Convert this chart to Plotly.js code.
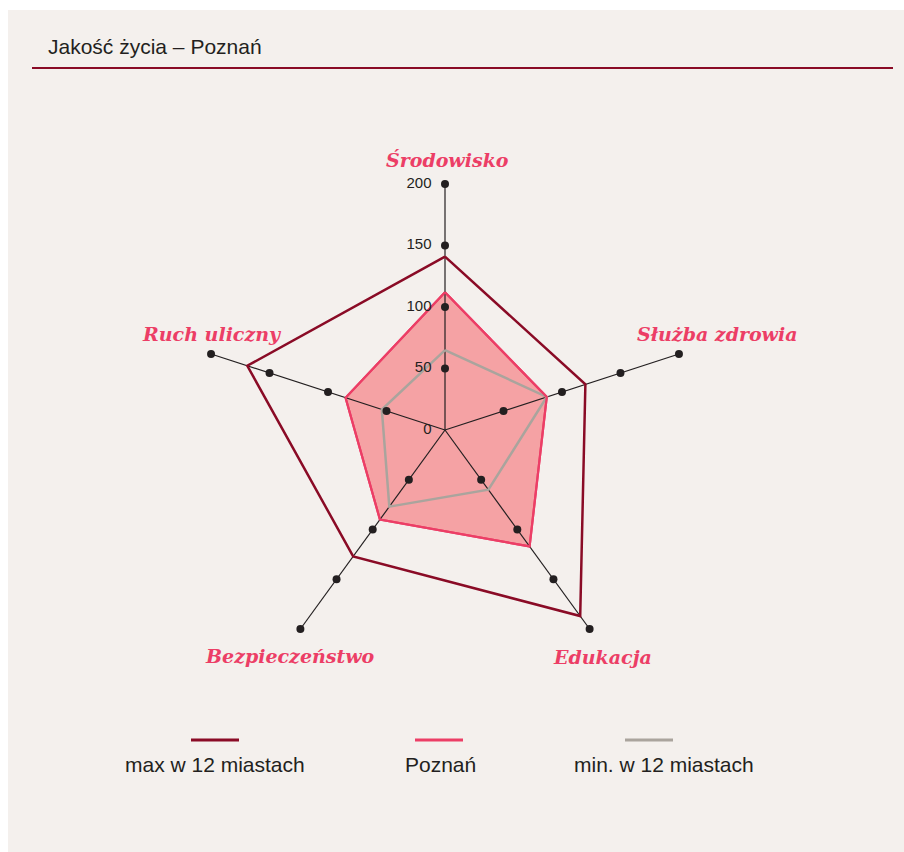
<!DOCTYPE html>
<html>
<head>
<meta charset="utf-8">
<script src="https://cdn.plot.ly/plotly-3.0.1.min.js"></script>
<style>html,body{margin:0;padding:0;background:#fff;}#chart{width:904px;height:852px;}</style>
</head>
<body>
<div id="chart"></div>
<script>
const categories = ["Środowisko", "Służba zdrowia", "Edukacja", "Bezpieczeństwo", "Ruch uliczny"];
const maxValues = [141, 120, 187, 127, 169];
const poznanValues = [112, 87, 117, 90, 85];
const minValues = [65, 87, 60, 77, 54];
const radialTicks = [0, 50, 100, 150, 200];
const seriesNames = ["max w 12 miastach", "Poznań", "min. w 12 miastach"];
const titleText = "Jakość życia – Poznań";

const C_MAX = "#8a0b26", C_POZ = "#ec3e66", C_MIN = "#aaa49d", C_AX = "#231f20";
const close = a => a.concat([a[0]]);
const thetaClosed = close(categories);
const rMax = radialTicks[radialTicks.length - 1];

// spokes
const spokeR = [], spokeT = [];
categories.forEach(c => { spokeR.push(0, rMax, null); spokeT.push(c, c, null); });
// tick dots
const dotR = [], dotT = [];
categories.forEach(c => radialTicks.slice(1).forEach(t => { dotR.push(t); dotT.push(c); }));

const traces = [
  {type: "scatterpolar", r: close(poznanValues), theta: thetaClosed, mode: "lines", fill: "toself",
   fillcolor: "#f5a2a4", line: {color: C_POZ, width: 2.2}, name: seriesNames[1], showlegend: false, hoverinfo: "skip"},
  {type: "scatterpolar", r: spokeR, theta: spokeT, mode: "lines", connectgaps: false,
   line: {color: C_AX, width: 1.2}, showlegend: false, hoverinfo: "skip"},
  {type: "scatterpolar", r: close(minValues), theta: thetaClosed, mode: "lines",
   line: {color: C_MIN, width: 2.5}, name: seriesNames[2], showlegend: false, hoverinfo: "skip"},
  {type: "scatterpolar", r: close(poznanValues), theta: thetaClosed, mode: "lines",
   line: {color: C_POZ, width: 2.2}, name: seriesNames[1], showlegend: false, hoverinfo: "skip"},
  {type: "scatterpolar", r: close(maxValues), theta: thetaClosed, mode: "lines",
   line: {color: C_MAX, width: 2.5}, name: seriesNames[0], showlegend: false, hoverinfo: "skip"},
  {type: "scatterpolar", r: dotR, theta: dotT, mode: "markers",
   marker: {color: C_AX, size: 8}, showlegend: false, hoverinfo: "skip"},
  {type: "scatterpolar", r: radialTicks, theta: radialTicks.map(() => categories[0]), mode: "markers+text",
   text: radialTicks.map(String), textposition: "middle left",
   marker: {size: 20, opacity: 0}, textfont: {family: "Liberation Sans, Arial", size: 15, color: C_AX},
   showlegend: false, hoverinfo: "skip"}
];

const W = 904, H = 852;
const px = x => x / W, py = y => 1 - y / H;
const cx = 445, cy = 430, R = 246;

const labelFont = {family: "DejaVu Serif", size: 19, color: C_POZ, weight: "bold", style: "italic"};
const labelPos = [[447, 160], [717, 334], [602, 657], [290, 656], [212, 334]];
const annotations = categories.map((c, i) => ({
  text: "<b><i>" + c + "</i></b>", xref: "paper", yref: "paper", x: px(labelPos[i][0]), y: py(labelPos[i][1]),
  xanchor: "center", yanchor: "middle", showarrow: false, font: labelFont
}));
annotations.push({text: titleText, xref: "paper", yref: "paper", x: px(46), y: py(46), xanchor: "left", yanchor: "middle",
  showarrow: false, font: {family: "Liberation Sans, Arial", size: 21, color: "#231f20"}});

const legendLine = [[191, 239], [415, 463], [625, 673]];
const legendText = [215, 440, 664];
const legendColors = [C_MAX, C_POZ, C_MIN];
const shapes = [
  {type: "rect", xref: "paper", yref: "paper", x0: px(8), x1: 1, y0: 0, y1: py(10), fillcolor: "#f4f0ed", line: {width: 0}, layer: "below"},
  {type: "line", xref: "paper", yref: "paper", x0: px(32), x1: px(893), y0: py(68), y1: py(68), line: {color: C_MAX, width: 2}}
];
seriesNames.forEach((n, i) => {
  shapes.push({type: "line", xref: "paper", yref: "paper", x0: px(legendLine[i][0]), x1: px(legendLine[i][1]),
    y0: py(740), y1: py(740), line: {color: legendColors[i], width: 3}});
  annotations.push({text: n, xref: "paper", yref: "paper", x: px(legendText[i]), y: py(764), xanchor: "center", yanchor: "middle",
    showarrow: false, font: {family: "Liberation Sans, Arial", size: 21, color: "#231f20"}});
});

const layout = {
  width: W, height: H, margin: {l: 0, r: 0, t: 0, b: 0},
  paper_bgcolor: "#ffffff", showlegend: false,
  polar: {
    domain: {x: [(cx - R) / W, (cx + R) / W], y: [(H - cy - R) / H, (H - cy + R) / H]},
    bgcolor: "rgba(0,0,0,0)",
    angularaxis: {direction: "clockwise", rotation: 90, showticklabels: false, ticks: "", showgrid: false, showline: false},
    radialaxis: {range: [0, rMax], angle: 90, showticklabels: false, showgrid: false, showline: false, ticks: ""}
  },
  shapes: shapes, annotations: annotations
};
Plotly.newPlot("chart", traces, layout, {staticPlot: true, displayModeBar: false});
</script>
</body>
</html>
